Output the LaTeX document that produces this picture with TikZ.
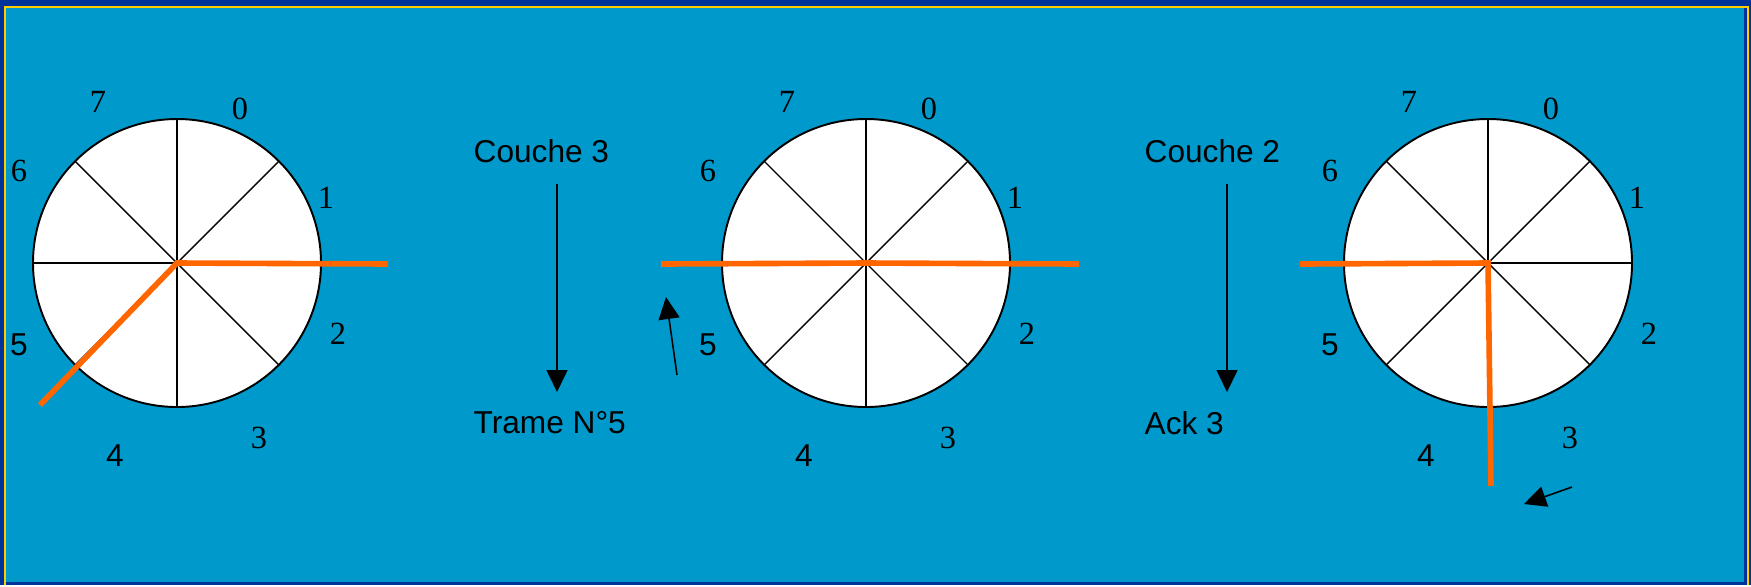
\documentclass[tikz,border=0pt]{standalone}
\usepackage{fontspec}
\setmainfont{Liberation Serif}
\setsansfont{Liberation Sans}
\usepackage{tikz}
\usetikzlibrary{arrows.meta,calc}

\definecolor{slidebg}{HTML}{0099CC}
\definecolor{slideedge}{HTML}{003399}
\definecolor{slideline}{HTML}{FFCC00}
\definecolor{handorange}{HTML}{FF6600}

\tikzset{
  wheel/.style={circle,draw,fill=white,line width=0.55pt,minimum size=28.8mm,inner sep=0pt,outer sep=0pt},
  spoke/.style={line width=0.4pt},
  hand/.style={handorange,line width=1.6pt},
  numlbl/.style={inner sep=0pt,font=\fontsize{9.2}{10}\selectfont},
  sanslbl/.style={inner sep=0pt,font=\sffamily\fontsize{9}{10}\selectfont},
  flow/.style={line width=0.45pt,-{Triangle[length=2.2mm,width=2.1mm]}},
}

\begin{document}
\begin{tikzpicture}[x=0.1mm,y=-0.1mm]
  % slide background
  \fill[slideedge] (0,0) rectangle (1751,585);
  \fill[slidebg] (6,8) rectangle (1744,582);
  \draw[slideline,line width=0.6pt] (5,585) -- (5,7) -- (1748,7) -- (1748,585);
  \useasboundingbox (0,0) rectangle (1751,585);

  % the three windows
  \foreach \w/\cx in {1/177,2/866,3/1488} {
    \node[wheel] (w\w) at (\cx,263) {};
    \foreach \a in {0,45,...,315}
      \draw[spoke] (w\w.center) -- (w\w.\a);
    \foreach \n/\dx/\dy in {0/63/-154,1/149/-65,2/161/71,3/82/175,6/-158/-92,7/-79/-161}
      \node[numlbl] (w\w-\n) at ($(w\w)+(\dx,\dy)$) {\n};
    \foreach \n/\dx/\dy in {4/-62/193,5/-158/82}
      \node[sanslbl] (w\w-\n) at ($(w\w)+(\dx,\dy)$) {\n};
  }

  % window bounds
  \coordinate (h1r) at (388,264);
  \coordinate (h1l) at (40,405);
  \coordinate (h2l) at (661,264);
  \coordinate (h2r) at (1079,264);
  \coordinate (h3l) at (1300,264);
  \coordinate (h3d) at (1491,486);
  \draw[hand] (h1r) -- (w1.center) -- (h1l);
  \draw[hand] (h2l) -- (w2.center) -- (h2r);
  \draw[hand] (h3l) -- (w3.center) -- (h3d);

  % exchanges
  \node[sanslbl,anchor=west] (c3) at (473,151) {Couche 3};
  \node[sanslbl,anchor=west] (t5) at (473,423) {Trame N°5};
  \node[sanslbl,anchor=west] (c2) at (1144,151) {Couche 2};
  \node[sanslbl,anchor=west] (k3) at (1144,423) {Ack 3};
  \coordinate (f1a) at (557,184);
  \coordinate (f1b) at (557,392);
  \coordinate (f2a) at (1227,184);
  \coordinate (f2b) at (1227,392);
  \draw[flow] (f1a) -- (f1b);
  \draw[flow] (f2a) -- (f2b);

  % rotation marks
  \coordinate (s1a) at (677,375);
  \coordinate (s1b) at (666,297);
  \coordinate (s2a) at (1572,487);
  \coordinate (s2b) at (1524,504);
  \draw[flow] (s1a) -- (s1b);
  \draw[flow] (s2a) -- (s2b);
\end{tikzpicture}
\end{document}
